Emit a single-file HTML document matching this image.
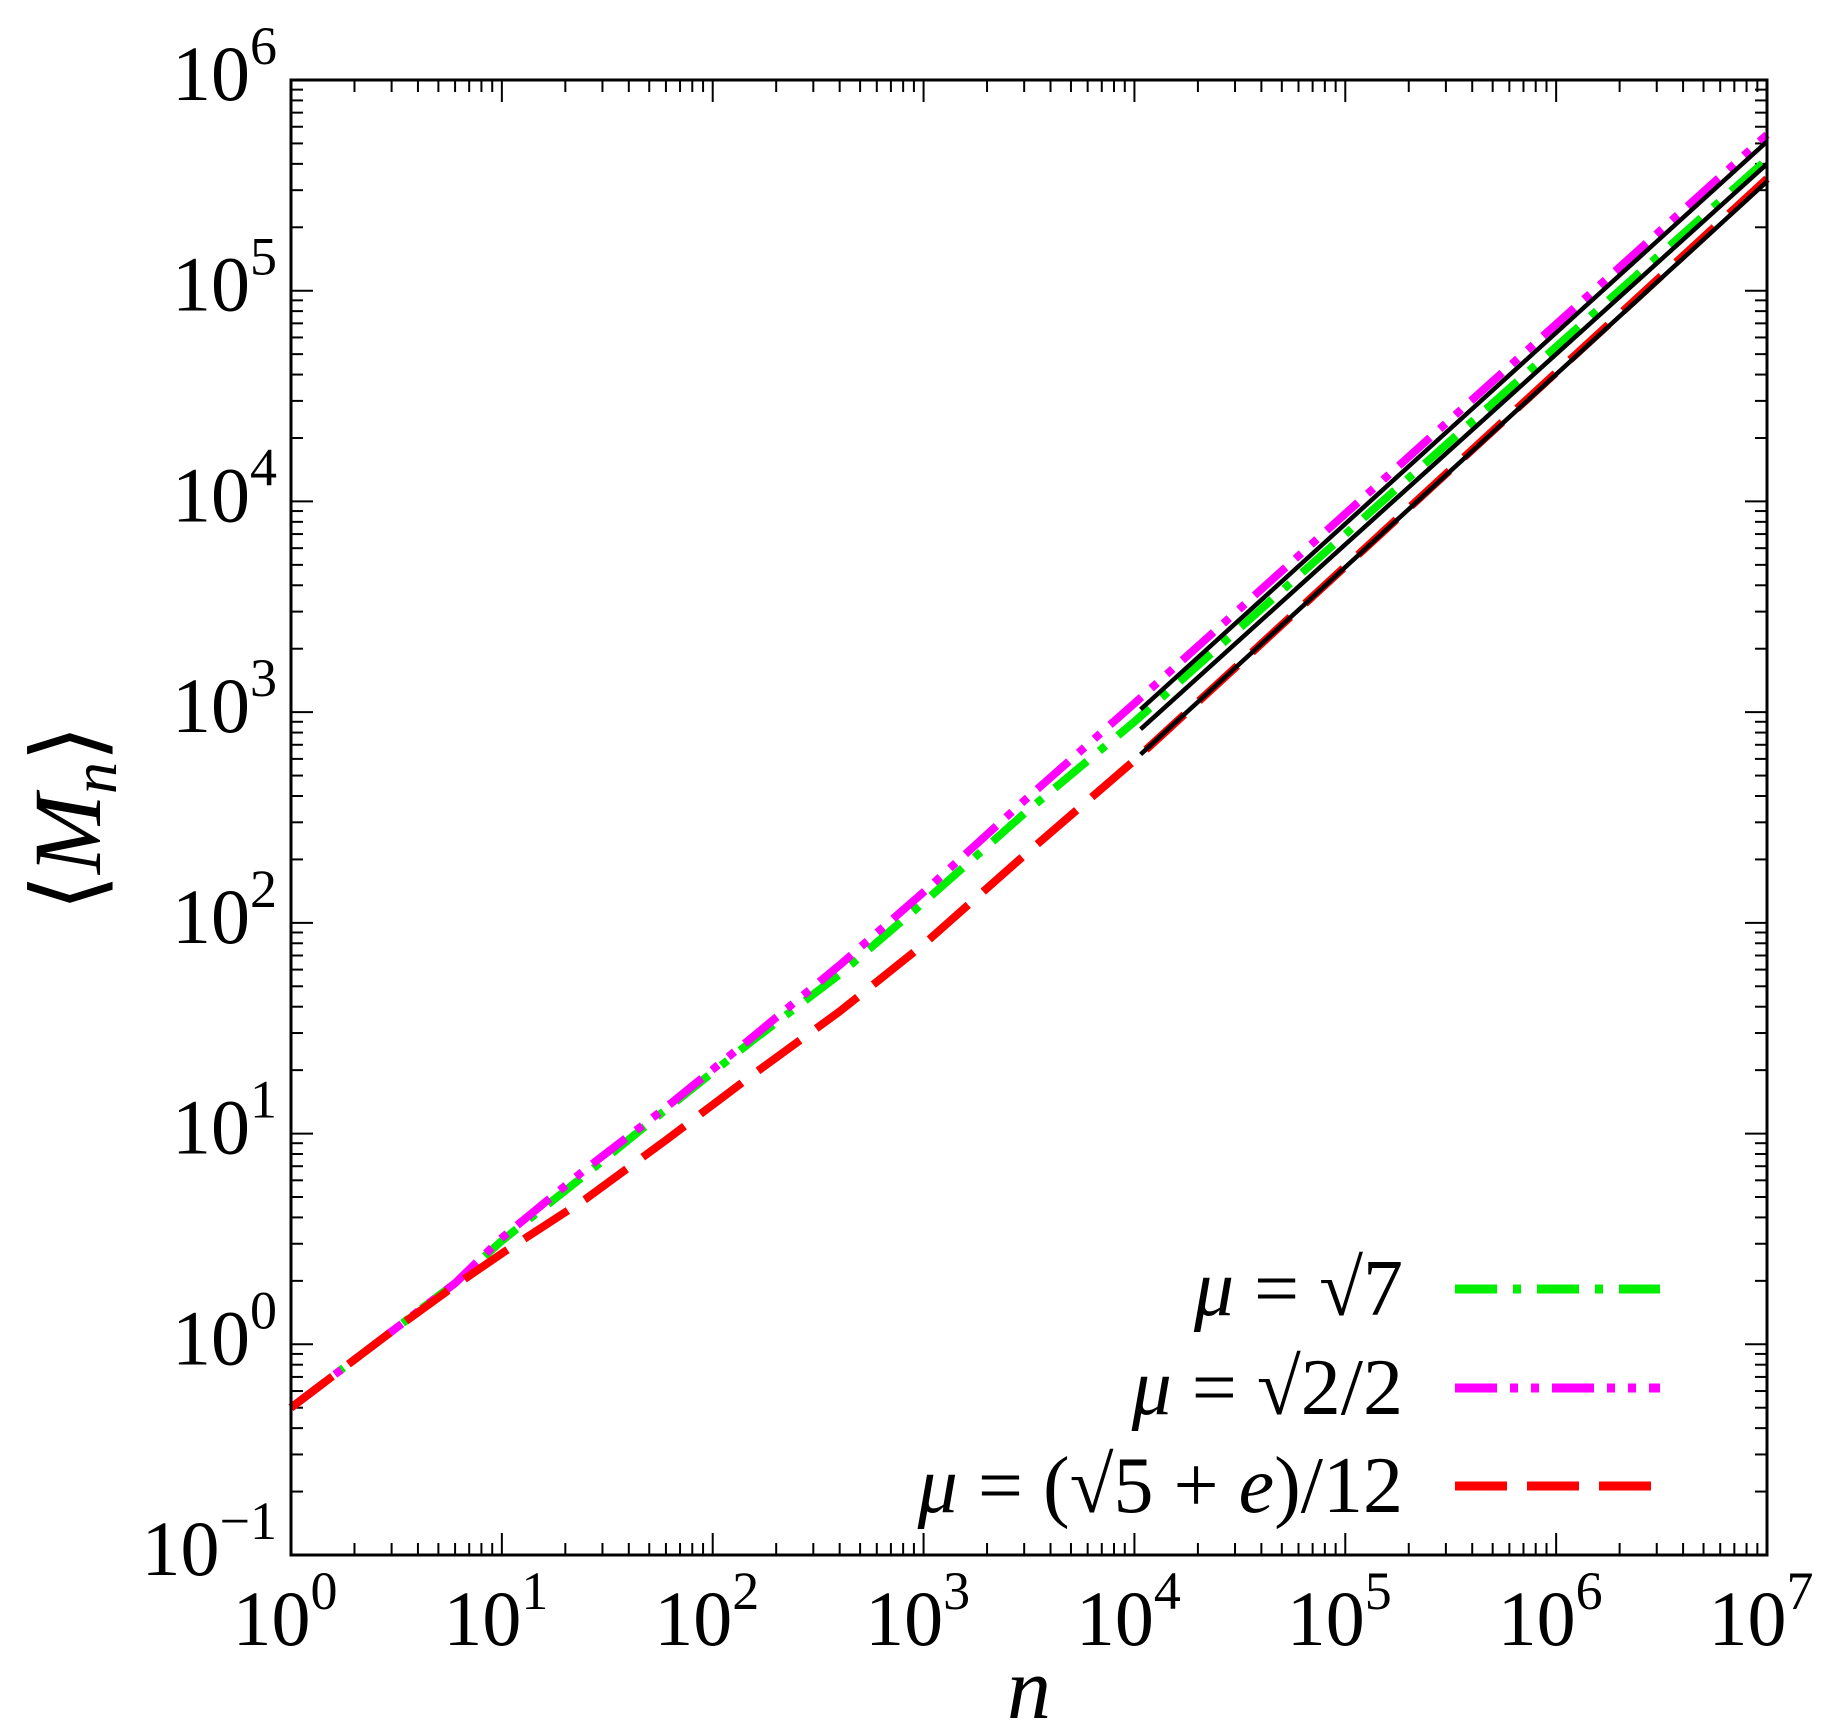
<!DOCTYPE html>
<html><head><meta charset="utf-8">
<style>
html,body{margin:0;padding:0;background:#fff;}
svg{display:block;}
text{font-family:"Liberation Serif","DejaVu Serif",serif;fill:#000;}
</style></head>
<body>
<svg id="chart" width="1837" height="1734" viewBox="0 0 1837 1734" xmlns="http://www.w3.org/2000/svg">
<g id="grid-ticks"></g>
<g id="series"></g>
<rect x="291" y="80" width="1476" height="1475" fill="none" stroke="#000" stroke-width="3"/>
<g id="xlabels"></g>
<g id="ylabels"></g>
<text x="1029" y="1718" font-size="88" font-style="italic" text-anchor="middle">n</text>
<text transform="translate(100,818) rotate(-90)" font-size="96" text-anchor="middle">⟨<tspan font-style="italic">M</tspan><tspan font-style="italic" font-size="64" dy="16">n</tspan><tspan dy="-16">⟩</tspan></text>
<g id="legend"></g>
</svg>
<script>
const xTicksExp = [0,1,2,3,4,5,6,7];
const yTicksExp = [-1,0,1,2,3,4,5,6];
const seriesNames = ["mu-sqrt7","mu-sqrt2-over-2","mu-sqrt5-plus-e-over-12"];
const nValues = [1,3,6,10,25,60,150,400,1000,3000,10000,10000000];
const greenValues = [0.5,1.15,1.95,3.1,6.4,13,27,57,125,330,900,420000];
const magentaValues = [0.5,1.15,1.95,3.2,6.8,13.3,28,63,140,380,1100,550000];
const redValues = [0.5,1.15,1.9,2.7,4.9,9.3,18.6,38,79,209,590,340000];
const fitN = [10700,10000000];
const fitTop = [1030,510000];
const fitMid = [830,400000];
const fitBot = [630,330000];

const X0=291,X1=1767,Y0=1555,Y1=80;
function xs(v){return X0+Math.log10(v)/7*(X1-X0);}
function ys(v){return Y0-(Math.log10(v)+1)/7*(Y0-Y1);}
const NS="http://www.w3.org/2000/svg";
function mk(tag,attrs,parent){const e=document.createElementNS(NS,tag);for(const k in attrs)e.setAttribute(k,attrs[k]);parent.appendChild(e);return e;}

const tk=document.getElementById('grid-ticks');
for(let d=0;d<7;d++){for(let m=1;m<10;m++){
  const v=Math.pow(10,d)*m;const x=xs(v);const L=m===1?22:12;
  const t1=mk('line',{x1:x,y1:Y0,x2:x,y2:Y0-L,stroke:'#000','stroke-width':2},tk);
  
  
  const t2=mk('line',{x1:x,y1:Y1,x2:x,y2:Y1+L,stroke:'#000','stroke-width':2},tk);
  
  
}}
for(let d=-1;d<6;d++){for(let m=1;m<10;m++){
  const v=Math.pow(10,d)*m;const y=ys(v);const L=m===1?22:12;
  const t1=mk('line',{x1:X0,y1:y,x2:X0+L,y2:y,stroke:'#000','stroke-width':2},tk);
  
  
  const t2=mk('line',{x1:X1,y1:y,x2:X1-L,y2:y,stroke:'#000','stroke-width':2},tk);
  
  
}}

const xl=document.getElementById('xlabels');
xTicksExp.forEach(e=>{
  const t=mk('text',{x:xs(Math.pow(10,e))-6,y:1645,'font-size':78,'text-anchor':'middle'},xl);
  
  
  t.innerHTML='10<tspan font-size="54" dy="-36">'+e+'</tspan>';
});
const yl=document.getElementById('ylabels');
yTicksExp.forEach(e=>{
  const t=mk('text',{x:277,y:ys(Math.pow(10,e))+20,'font-size':78,'text-anchor':'end'},yl);
  
  
  t.innerHTML='10<tspan font-size="54" dy="-36">'+(e<0?'−'+(-e):e)+'</tspan>';
});

const sg=document.getElementById('series');
function pathOf(xsArr,ysArr){return xsArr.map((n,i)=>(i?'L':'M')+xs(n).toFixed(1)+','+ys(ysArr[i]).toFixed(1)).join(' ');}
const styles=[
  {vals:greenValues,color:'#00ee00',dash:'42,16,8,16'},
  {vals:magentaValues,color:'#ff00ff',dash:'42,13,8,13,8,13'},
  {vals:redValues,color:'#ff0000',dash:'52,20'}
];
styles.forEach((s,i)=>{
  const p=mk('path',{d:pathOf(nValues,s.vals),stroke:s.color,'stroke-width':8,fill:'none','stroke-dasharray':s.dash,'stroke-linejoin':'round'},sg);
  
  
});
[[fitTop,'fit-top'],[fitMid,'fit-middle'],[fitBot,'fit-bottom']].forEach(([arr,nm])=>{
  const p=mk('path',{d:pathOf(fitN,arr),stroke:'#000','stroke-width':4.5,fill:'none'},sg);
  
  
});

const lg=document.getElementById('legend');
const rowsY=[1289,1388,1486];
const legendHtml=[
  '<tspan font-style="italic">μ</tspan> = √7',
  '<tspan font-style="italic">μ</tspan> = √2/2',
  '<tspan font-style="italic">μ</tspan> = (√5 + <tspan font-style="italic">e</tspan>)/12'
];
styles.forEach((s,i)=>{
  const t=mk('text',{x:1403,y:rowsY[i]+26,'font-size':80,'text-anchor':'end'},lg);
  
  
  t.innerHTML=legendHtml[i];
  const l=mk('line',{x1:1455,y1:rowsY[i],x2:1660,y2:rowsY[i],stroke:s.color,'stroke-width':9,'stroke-dasharray':s.dash},lg);
  
  
});
</script>
</body></html>
